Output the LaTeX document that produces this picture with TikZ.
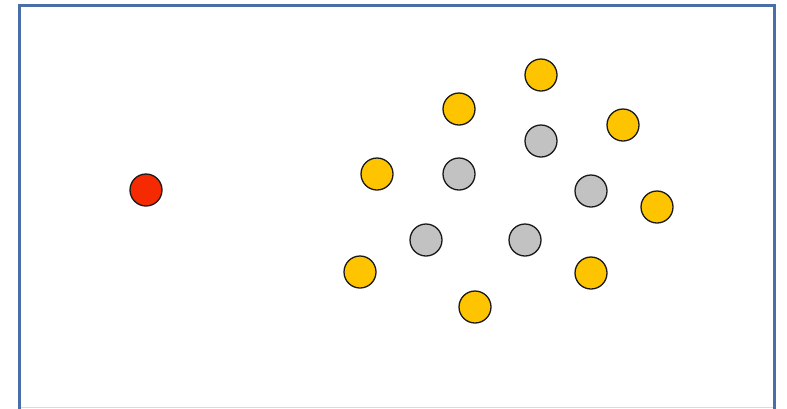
\documentclass[tikz,border=0pt]{standalone}
\definecolor{cFrame}{HTML}{4A6FA8}
\definecolor{cFrameLow}{HTML}{D3DCE8}
\definecolor{cYellow}{HTML}{FFC400}
\definecolor{cGray}{HTML}{C2C2C2}
\definecolor{cRed}{HTML}{F52A00}
\definecolor{cEdge}{gray}{0.1}

\tikzset{
  dot/.style={circle, draw=cEdge, line width=1.3pt, minimum size=32pt, inner sep=0pt},
  outer/.style={dot, fill=cYellow},
  inner/.style={dot, fill=cGray},
  lone/.style={dot, fill=cRed}
}

\begin{document}
\begin{tikzpicture}[x=1pt, y=-1pt]

% ── Page ──
\useasboundingbox (0,0) rectangle (787,408);
\clip (0,0) rectangle (787,408);
\fill[white] (0,0) rectangle (787,408);

% ── Frame ──
\draw[cFrame, line width=3pt] (19.5,5.5) rectangle (774.5,413);
\draw[cFrameLow, line width=1pt] (21,407.5) -- (773,407.5);

% ── Single point ──
\node[lone] (r) at (146,190) {};

% ── Inner ring (gray) ──
\node[inner] (g1) at (541,141) {};
\node[inner] (g2) at (459,174) {};
\node[inner] (g3) at (591,191) {};
\node[inner] (g4) at (426,240) {};
\node[inner] (g5) at (525,240) {};

% ── Outer ring (yellow) ──
\node[outer] (y1) at (541,75) {};
\node[outer] (y2) at (459,109) {};
\node[outer] (y3) at (623,125) {};
\node[outer] (y4) at (377,174) {};
\node[outer] (y5) at (657,207) {};
\node[outer] (y6) at (360,272) {};
\node[outer] (y7) at (591,273) {};
\node[outer] (y8) at (475,307) {};

\end{tikzpicture}
\end{document}
